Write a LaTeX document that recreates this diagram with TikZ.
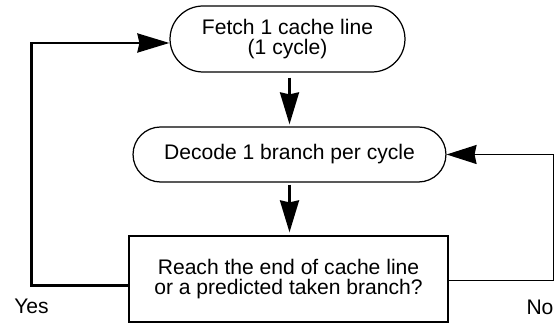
\documentclass[tikz,border=0pt]{standalone}
\usepackage{fontspec}
\setmainfont{Liberation Sans}
\usetikzlibrary{arrows.meta,shapes.misc}

\begin{document}
\begin{tikzpicture}[x=0.02cm,y=-0.02cm,
  every node/.style={font=\fontsize{12}{11}\selectfont},
  pill/.style={rounded rectangle,draw,line width=0.7pt,inner sep=0pt,align=center},
  testbox/.style={rectangle,draw,line width=0.7pt,inner sep=0pt,align=center},
  flow/.style={line width=1.5pt,-{Stealth[length=0.64cm,width=0.38cm,inset=0.04cm]}},
  backflow/.style={line width=0.8pt,-{Stealth[length=0.6cm,width=0.38cm,inset=0.04cm]}}]
  \useasboundingbox (0,0) rectangle (559,323);
  \lineskiplimit=-20pt
  % les trois etapes
  \node[pill,minimum width=4.7cm,minimum height=1.32cm] (fetch) at (287.5,39) {Fetch 1 cache line\\(1 cycle)};
  \node[pill,minimum width=6.26cm,minimum height=1.1cm] (decode) at (289.5,154.5) {Decode 1 branch per cycle};
  \node[testbox,minimum width=6.38cm,minimum height=1.72cm] (check) at (288.5,279) {Reach the end of cache line\\or a predicted taken branch?};
  % enchainement vertical
  \draw[flow,shorten <=0.1cm,shorten >=0.04cm] (decode.north |- fetch.south) -- (decode.north);
  \draw[flow,shorten <=0.04cm,shorten >=0.06cm] (decode.south) -- (decode.south |- check.north);
  % retours
  \draw[flow] ([yshift=-0.13cm]check.west) -- ++(-97,0) |- ([yshift=-0.08cm]fetch.west);
  \draw[backflow] ([yshift=-0.03cm]check.east) -- ++(105,0) |- (decode.east);
  \node (yes) at (31.5,306) {Yes};
  \node (no) at (540,307) {No};
\end{tikzpicture}
\end{document}
